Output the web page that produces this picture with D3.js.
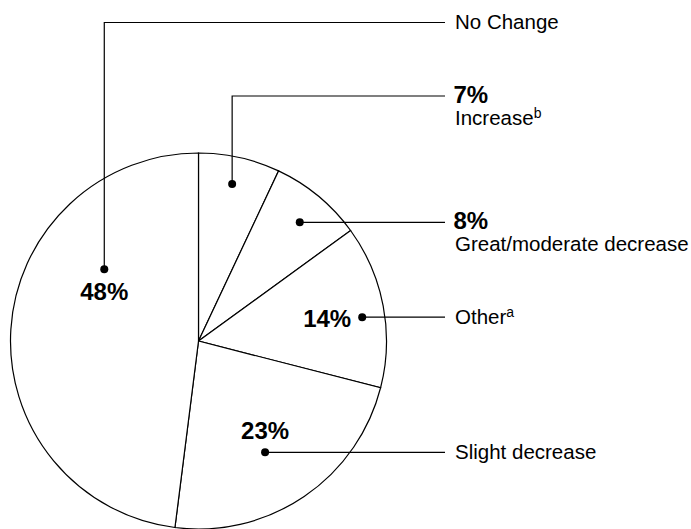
<!DOCTYPE html>
<html>
<head>
<meta charset="utf-8">
<script src="https://cdn.jsdelivr.net/npm/d3@7"></script>
<style>
  body { margin: 0; background: #fff; }
  text { font-family: "Liberation Sans", Arial, Helvetica, sans-serif; fill: #000; }
</style>
</head>
<body>
<div id="chart"></div>
<script>
// data, clockwise from 12 o'clock
let categories = ["Increase", "Great/moderate decrease", "Other", "Slight decrease", "No Change"];
let values = [7, 8, 14, 23, 48];
let footnotes = ["b", "", "a", "", ""];

let width = 691, height = 529;
let cx = 198.5, cy = 341, radius = 188;
let textX = 455, lineEndX = 445;

// where each dot sits inside its slice (fraction of the slice angle, fraction of radius)
let dotAngle = [0.48, 0.53, 0.55, 0.54, 0.695];
let dotRadius = [0.854, 0.83, 0.88, 0.69, 0.63];
// leader line elbow height (null = straight across)
let elbowY = [96, null, null, null, 22.5];
// where the percent goes: "right" = over the label, else next to the dot
let pctPlace = ["right", "right", "left", "above", "below"];

let svg = d3.select("#chart")
    .append("svg")
    .attr("width", width)
    .attr("height", height);

let g = svg.append("g")
    .attr("transform", "translate(" + cx + "," + cy + ")");

let pie = d3.pie().sort(null).value(function (d) { return d; });
let arcs = pie(values);

let arc = d3.arc().innerRadius(0).outerRadius(radius);

g.selectAll("path.slice")
    .data(arcs)
    .enter()
    .append("path")
    .attr("class", "slice")
    .attr("d", arc)
    .attr("fill", "#fff")
    .attr("stroke", "#000")
    .attr("stroke-width", 1.2);

// dots + leaders
arcs.forEach(function (d, i) {
    let a = d.startAngle + dotAngle[i] * (d.endAngle - d.startAngle);
    let r = dotRadius[i] * radius;
    let x = cx + Math.sin(a) * r;
    let y = cy - Math.cos(a) * r;

    let pts;
    let lineY;
    if (elbowY[i] !== null) {
        lineY = elbowY[i];
        pts = [[x, y], [x, lineY], [lineEndX, lineY]];
    } else {
        lineY = y;
        pts = [[x, y], [lineEndX, y]];
    }

    svg.append("path")
        .attr("d", d3.line()(pts))
        .attr("fill", "none")
        .attr("stroke", "#000")
        .attr("stroke-width", 1.2);

    svg.append("circle")
        .attr("cx", x)
        .attr("cy", y)
        .attr("r", 4)
        .attr("fill", "#000");

    let pct = values[i] + "%";
    let labelY;
    if (pctPlace[i] === "right") {
        svg.append("text")
            .attr("x", textX - 1.5)
            .attr("y", lineY + 7)
            .attr("font-size", 24)
            .attr("font-weight", "bold")
            .text(pct);
        labelY = lineY + 28.5;
    } else {
        labelY = lineY + 6.5;
        let t = svg.append("text")
            .attr("font-size", 24)
            .attr("font-weight", "bold")
            .text(pct);
        if (pctPlace[i] === "left") {
            t.attr("x", x - 11).attr("y", y + 10).attr("text-anchor", "end");
        } else if (pctPlace[i] === "above") {
            t.attr("x", x).attr("y", y - 13).attr("text-anchor", "middle");
        } else {
            t.attr("x", x).attr("y", y + 31).attr("text-anchor", "middle");
        }
    }

    let lab = svg.append("text")
        .attr("x", textX)
        .attr("y", labelY)
        .attr("font-size", 20.5)
        .text(categories[i]);
    if (footnotes[i]) {
        lab.append("tspan")
            .attr("dy", -7)
            .attr("font-size", 14)
            .text(footnotes[i]);
    }
});
</script>
</body>
</html>
